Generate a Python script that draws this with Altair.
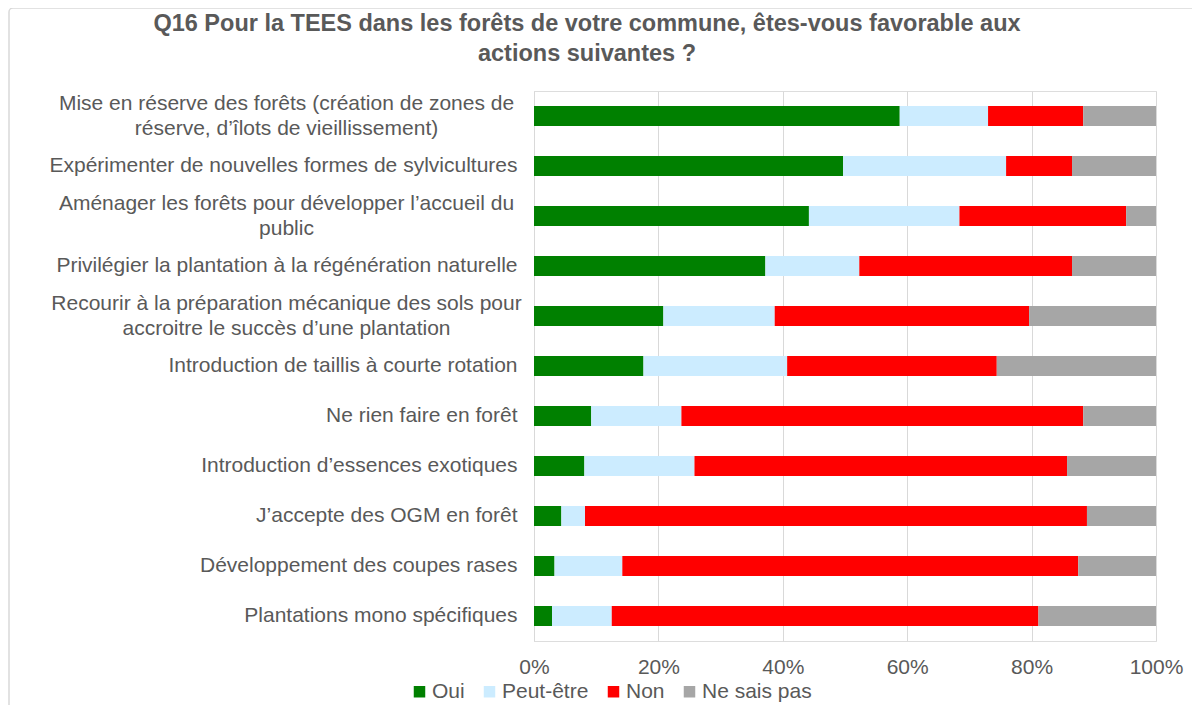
import altair as alt
import pandas as pd

categories = [
    "Mise en réserve des forêts (création de zones de|réserve, d’îlots de vieillissement)",
    "Expérimenter de nouvelles formes de sylvicultures",
    "Aménager les forêts pour développer l’accueil du|public",
    "Privilégier la plantation à la régénération naturelle",
    "Recourir à la préparation mécanique des sols pour|accroitre le succès d’une plantation",
    "Introduction de taillis à courte rotation",
    "Ne rien faire en forêt",
    "Introduction d’essences exotiques",
    "J’accepte des OGM en forêt",
    "Développement des coupes rases",
    "Plantations mono spécifiques",
]
responses = ["Oui", "Peut-être", "Non", "Ne sais pas"]
colors = ["#008000", "#CCECFF", "#FF0000", "#A6A6A6"]

oui = [58.8, 49.7, 44.2, 37.2, 20.8, 17.6, 9.2, 8.1, 4.4, 3.3, 2.9]
peut_etre = [14.2, 26.2, 24.2, 15.1, 17.9, 23.1, 14.5, 17.7, 3.8, 10.9, 9.6]
non = [15.3, 10.6, 26.8, 34.2, 40.9, 33.7, 64.6, 59.9, 80.7, 73.3, 68.6]
ne_sais_pas = [11.7, 13.5, 4.8, 13.5, 20.4, 25.6, 11.7, 14.3, 11.1, 12.5, 18.9]

title_lines = [
    "Q16 Pour la TEES  dans les forêts de votre commune, êtes-vous  favorable aux",
    "actions suivantes  ?",
]

rows = []
for series, vals in zip(responses, [oui, peut_etre, non, ne_sais_pas]):
    for cat, v in zip(categories, vals):
        rows.append({"action": cat, "reponse": series, "valeur": v,
                     "ordre": responses.index(series)})
df = pd.DataFrame(rows)

FONT = "Liberation Sans"
GREY_TXT = "#595959"
GRID = "#D9D9D9"
MULTI = "indexof(datum.value, '|') >= 0"

single = alt.Data(values=[{"k": 1}])

border = alt.Chart(single).mark_rect(
    fillOpacity=0, stroke=GRID, strokeWidth=1.5, cornerRadius=4
).encode(
    x=alt.value(-525), x2=alt.value(700), y=alt.value(-83), y2=alt.value(800)
)

title = alt.Chart(single).mark_text(
    text=title_lines,
    font=FONT,
    fontSize=23.5,
    fontWeight="bold",
    color=GREY_TXT,
    align="center",
    baseline="alphabetic",
    lineHeight=30,
).encode(x=alt.value(53), y=alt.value(-60))

bars = alt.Chart(df).mark_bar().encode(
    y=alt.Y(
        "action:N",
        sort=categories,
        scale=alt.Scale(domain=categories, paddingInner=0.6, paddingOuter=0.3),
        axis=alt.Axis(
            title=None,
            labelExpr="split(datum.label, '|')",
            labelFont=FONT,
            labelFontSize=21,
            labelColor=GREY_TXT,
            labelLineHeight=25,
            labelLimit=600,
            labelAlign={"condition": {"test": MULTI, "value": "center"}, "value": "right"},
            labelPadding={"condition": {"test": MULTI, "value": 248}, "value": 17},
            labelOffset={"condition": {"test": MULTI, "value": -12.5}, "value": 0},
            ticks=False,
            tickSize=0,
            domain=True,
            domainColor=GRID,
            domainWidth=1,
            grid=False,
        ),
    ),
    x=alt.X(
        "valeur:Q",
        stack="normalize",
        scale=alt.Scale(domain=[0, 1], nice=False),
        axis=alt.Axis(
            title=None,
            format=".0%",
            values=[0, 0.2, 0.4, 0.6, 0.8, 1.0],
            labelFont=FONT,
            labelFontSize=21,
            labelColor=GREY_TXT,
            labelPadding=15,
            ticks=False,
            tickSize=0,
            domain=False,
            grid=True,
            gridColor=GRID,
            gridWidth=1,
            labelFlush=False,
        ),
    ),
    color=alt.Color(
        "reponse:N",
        sort=responses,
        scale=alt.Scale(domain=responses, range=colors),
        legend=alt.Legend(
            title=None,
            orient="none",
            direction="horizontal",
            legendX=-125,
            legendY=590,
            symbolType="square",
            symbolSize=132,
            symbolStrokeWidth=0,
            symbolOpacity=1,
            labelFont=FONT,
            labelFontSize=21,
            labelColor=GREY_TXT,
            labelOffset=2,
            columnPadding=14,
            padding=0,
        ),
    ),
    order=alt.Order("ordre:Q", sort="ascending"),
)

chart = alt.layer(border, title, bars).properties(
    width=622,
    height=550,
    padding={"left": 526, "top": 83, "right": 36, "bottom": 64},
    autosize=alt.AutoSizeParams(type="none"),
).configure_view(stroke=None).configure(font=FONT, background="white")

chart.save("out.html", embed_options={"renderer": "svg", "actions": False})
